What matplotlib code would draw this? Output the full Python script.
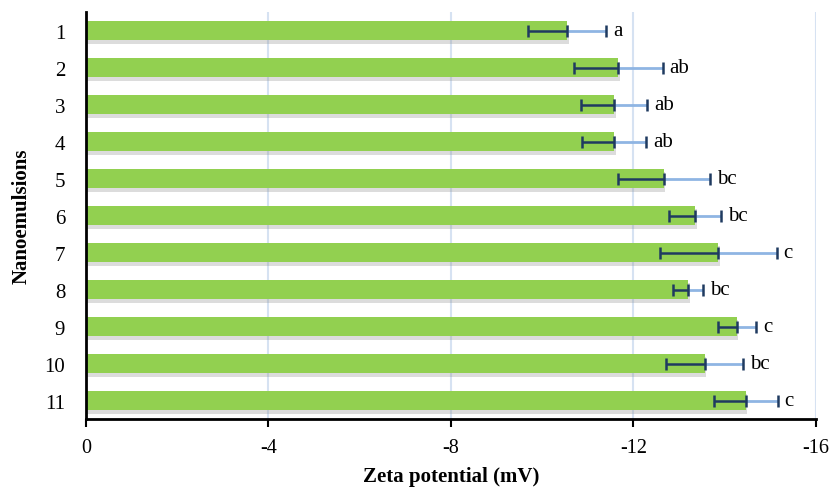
import matplotlib.pyplot as plt
import matplotlib.patheffects as pe

plt.rcParams['font.family'] = ['Liberation Serif', 'DejaVu Serif']

# Zeta potential of each nanoemulsion (mV), standard deviation and letter groups
samples = ["1", "2", "3", "4", "5", "6", "7", "8", "9", "10", "11"]
zeta = [-10.55, -11.67, -11.58, -11.58, -12.67, -13.36, -13.86, -13.20, -14.27, -13.56, -14.46]
sd = [0.85, 0.97, 0.72, 0.70, 1.00, 0.57, 1.28, 0.33, 0.42, 0.84, 0.70]
groups = ["a", "ab", "ab", "ab", "bc", "bc", "c", "bc", "c", "bc", "c"]

navy = "#1F3A60"
light = "#8FB5E3"

fig, ax = plt.subplots(figsize=(8.3, 4.89), dpi=100)
fig.subplots_adjust(left=0.1036, right=0.983, bottom=0.141, top=0.973)

pos = list(range(1, len(samples) + 1))
bars = ax.barh(pos, zeta, height=0.52, color="#92D050", zorder=3)
for b in bars:
    b.set_path_effects([pe.SimplePatchShadow(offset=(1, -2.5), shadow_rgbFace="#8C8C8C", alpha=0.3), pe.Normal()])

# error bar: dark half toward zero, light half beyond the bar end
for y, v, e, g in zip(pos, zeta, sd, groups):
    ax.errorbar(v, y, xerr=[[e], [0]], fmt="none", ecolor=light, elinewidth=2,
                capsize=0, zorder=4)
    ax.errorbar(v, y, xerr=[[0], [e]], fmt="none", ecolor=navy, elinewidth=1.8,
                capsize=4.3, capthick=1.8, zorder=5)
    ax.plot(v - e, y, marker="|", markersize=8.6, markeredgewidth=1.8, color=navy, zorder=5)
    ax.annotate(g, (v - e, y), xytext=(5, 0), textcoords="offset points",
                ha="left", va="center", fontsize=15)

ax.set_xlim(0, -16)
ax.set_ylim(11.5, 0.5)
ax.set_xticks([0, -4, -8, -12, -16])
ax.set_xticklabels(["0", "-4", "-8", "-12", "-16"])
ax.set_yticks(pos)
ax.set_yticklabels(samples)
ax.tick_params(axis="x", length=6, width=1.5, labelsize=14.5, pad=8)
ax.tick_params(axis="y", length=0, labelsize=15, pad=15)

ax.grid(axis="x", color="#D6E2F2", linewidth=1.5, zorder=0)
ax.set_axisbelow(True)
for s in ["top", "right"]:
    ax.spines[s].set_visible(False)
ax.spines["left"].set_linewidth(2)
ax.spines["bottom"].set_linewidth(2)
ax.spines["left"].set_zorder(6)

ax.set_xlabel("Zeta potential (mV)", fontsize=15, fontweight="bold", labelpad=6)
ax.set_ylabel("Nanoemulsions", fontsize=15, fontweight="bold", labelpad=9)

fig.savefig("out.png", dpi=100)
